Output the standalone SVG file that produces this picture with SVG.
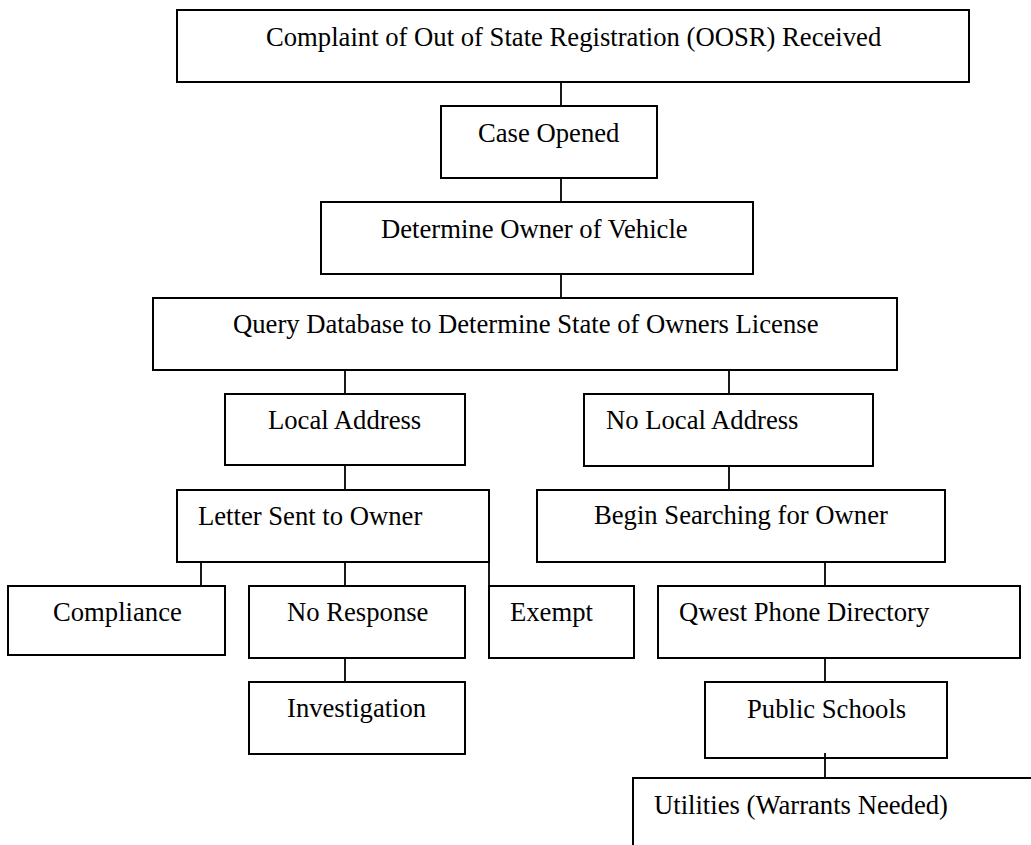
<svg xmlns="http://www.w3.org/2000/svg" width="1031" height="845" viewBox="0 0 1031 845">
<style>
.box{fill:#fff;stroke:#000;stroke-width:2}
.lbl{font-family:"Liberation Serif","Times New Roman",serif;font-size:26.67px;fill:#000}
.con line{stroke:#000;stroke-width:1.8}
</style>
<rect width="1031" height="845" fill="#fff"/>
<g id="n-complaint"><rect class="box" x="177" y="10" width="792" height="72"/><text class="lbl" x="266" y="46">Complaint of Out of State Registration (OOSR) Received</text></g>
<g id="n-case"><rect class="box" x="441" y="106" width="216" height="72"/><text class="lbl" x="478" y="142">Case Opened</text></g>
<g id="n-determine"><rect class="box" x="321" y="202" width="432" height="72"/><text class="lbl" x="381" y="238">Determine Owner of Vehicle</text></g>
<g id="n-query"><rect class="box" x="153" y="298" width="744" height="72"/><text class="lbl" x="233" y="333">Query Database to Determine State of Owners License</text></g>
<g id="n-local"><rect class="box" x="225" y="394" width="240" height="71"/><text class="lbl" x="268" y="429">Local Address</text></g>
<g id="n-nolocal"><rect class="box" x="584" y="394" width="289" height="72"/><text class="lbl" x="606" y="429">No Local Address</text></g>
<g id="n-letter"><rect class="box" x="177" y="490" width="312" height="72"/><text class="lbl" x="198" y="525">Letter Sent to Owner</text></g>
<g id="n-begin"><rect class="box" x="537" y="490" width="408" height="72"/><text class="lbl" x="594" y="524">Begin Searching for Owner</text></g>
<g id="n-compliance"><rect class="box" x="8" y="586" width="217" height="69"/><text class="lbl" x="53" y="621">Compliance</text></g>
<g id="n-noresponse"><rect class="box" x="249" y="586" width="216" height="72"/><text class="lbl" x="287" y="621">No Response</text></g>
<g id="n-exempt"><rect class="box" x="489" y="586" width="145" height="72"/><text class="lbl" x="510" y="621">Exempt</text></g>
<g id="n-qwest"><rect class="box" x="658" y="586" width="362" height="72"/><text class="lbl" x="679" y="621">Qwest Phone Directory</text></g>
<g id="n-investigation"><rect class="box" x="249" y="682" width="216" height="72"/><text class="lbl" x="287" y="717">Investigation</text></g>
<g id="n-schools"><rect class="box" x="705" y="682" width="242" height="76"/><text class="lbl" x="747" y="718">Public Schools</text></g>
<g id="n-utilities"><rect class="box" x="633" y="778" width="420" height="100"/><text class="lbl" x="654" y="814">Utilities (Warrants Needed)</text></g>
<g class="con" id="connectors">
<line x1="561" y1="82" x2="561" y2="106"/>
<line x1="561" y1="178" x2="561" y2="202"/>
<line x1="561" y1="274" x2="561" y2="298"/>
<line x1="345" y1="370" x2="345" y2="394"/>
<line x1="729" y1="370" x2="729" y2="394"/>
<line x1="345" y1="465" x2="345" y2="490"/>
<line x1="729" y1="466" x2="729" y2="490"/>
<line x1="201" y1="562" x2="201" y2="586"/>
<line x1="345" y1="562" x2="345" y2="586"/>
<line x1="489" y1="562" x2="489" y2="586"/>
<line x1="345" y1="658" x2="345" y2="682"/>
<line x1="825" y1="562" x2="825" y2="586"/>
<line x1="825" y1="658" x2="825" y2="682"/>
<line x1="825" y1="753" x2="825" y2="778"/>
</g>
</svg>
